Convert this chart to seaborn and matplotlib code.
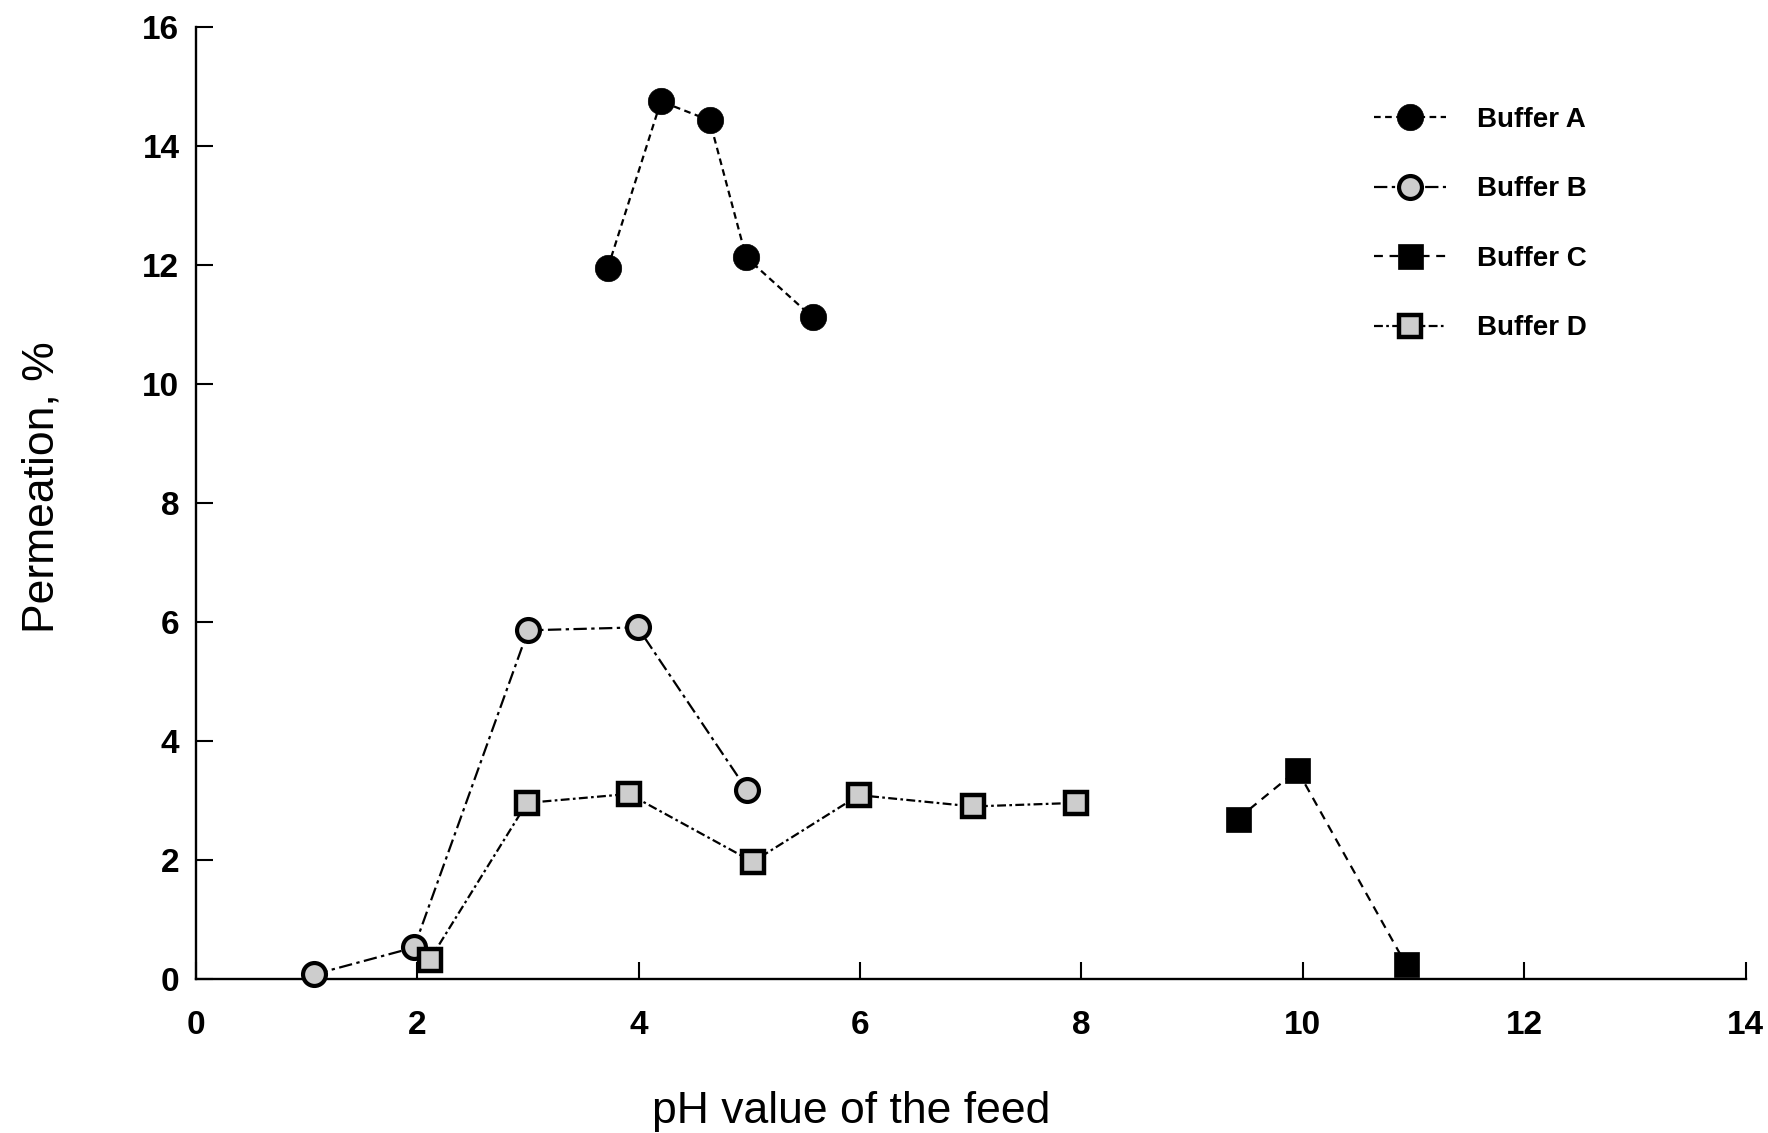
import matplotlib
matplotlib.use("Agg")
import matplotlib.pyplot as plt
from matplotlib import font_manager
import seaborn as sns
import pandas as pd

# Permeation (%) against feed pH for four buffer systems
ph_a = [3.72, 4.20, 4.64, 4.97, 5.57]
perm_a = [11.95, 14.75, 14.43, 12.13, 11.12]

ph_b = [1.07, 1.97, 3.00, 3.99, 4.98]
perm_b = [0.08, 0.53, 5.86, 5.91, 3.17]

ph_c = [9.41, 9.95, 10.93]
perm_c = [2.69, 3.51, 0.25]

ph_d = [2.11, 2.99, 3.91, 5.03, 5.99, 7.02, 7.95]
perm_d = [0.32, 2.96, 3.11, 1.97, 3.09, 2.90, 2.96]

series_names = ["Buffer A", "Buffer B", "Buffer C", "Buffer D"]
x_ticks = [0, 2, 4, 6, 8, 10, 12, 14]
y_ticks = [0, 2, 4, 6, 8, 10, 12, 14, 16]

sns.set_theme(style="ticks")
available = {f.name for f in font_manager.fontManager.ttflist}
base_font = "Liberation Sans" if "Liberation Sans" in available else "DejaVu Sans"
narrow_font = "Liberation Sans Narrow" if "Liberation Sans Narrow" in available else base_font
plt.rcParams["font.family"] = [base_font, "DejaVu Sans"]

fig = plt.figure(figsize=(17.68, 11.33), dpi=100)
ax = fig.add_axes([0.1109, 0.1359, 0.8764, 0.8403])

stipple = "#cdcdcd"
styles = {
    "Buffer A": dict(marker="o", markersize=19, markerfacecolor="black",
                     markeredgecolor="black", markeredgewidth=0.5,
                     linestyle=(0, (3, 2))),
    "Buffer B": dict(marker="o", markersize=16.5, markerfacecolor=stipple,
                     markeredgecolor="black", markeredgewidth=3.0,
                     linestyle=(0, (6, 2, 1.5, 2))),
    "Buffer C": dict(marker="s", markersize=18, markerfacecolor="black",
                     markeredgecolor="black", markeredgewidth=0.5,
                     linestyle=(0, (4, 3))),
    "Buffer D": dict(marker="s", markersize=16.5, markerfacecolor=stipple,
                     markeredgecolor="black", markeredgewidth=3.2,
                     linestyle=(0, (4, 1.5, 1.2, 1.5))),
}

data = {
    "Buffer A": (ph_a, perm_a),
    "Buffer B": (ph_b, perm_b),
    "Buffer C": (ph_c, perm_c),
    "Buffer D": (ph_d, perm_d),
}

for name in series_names:
    xs, ys = data[name]
    df = pd.DataFrame({"pH": xs, "Permeation": ys})
    sns.lineplot(data=df, x="pH", y="Permeation", ax=ax, estimator=None,
                 sort=False, color="black", linewidth=1.6, label=name,
                 clip_on=False, zorder=3, **styles[name])

ax.set_xlim(0, 14)
ax.set_ylim(0, 16)
ax.set_xticks(x_ticks)
ax.set_yticks(y_ticks)
ax.set_xticklabels([str(v) for v in x_ticks])
ax.set_yticklabels([str(v) for v in y_ticks])

for side in ("top", "right"):
    ax.spines[side].set_visible(False)
for side in ("left", "bottom"):
    ax.spines[side].set_linewidth(1.7)
    ax.spines[side].set_color("black")

ax.tick_params(axis="both", direction="in", length=12.5, width=1.5,
               colors="black", labelsize=24)
ax.tick_params(axis="x", pad=22)
ax.tick_params(axis="y", pad=12)
for lab in ax.get_xticklabels() + ax.get_yticklabels():
    lab.set_fontweight("bold")

ax.set_xlabel("pH value of the feed", fontsize=32, color="black")
ax.set_ylabel("Permeation, %", fontsize=32, color="black")
ax.xaxis.set_label_coords(0.4227, -0.118)
ax.yaxis.set_label_coords(-0.086, 0.517)

leg = ax.legend(loc="upper left", bbox_to_anchor=(0.753, 0.928), frameon=False,
                handlelength=2.6, handletextpad=1.1, labelspacing=1.57,
                borderaxespad=0, prop={"family": [narrow_font, "DejaVu Sans"],
                                       "weight": "bold", "size": 20})
for txt in leg.get_texts():
    txt.set_color("black")

ax.set_facecolor("white")
fig.patch.set_facecolor("white")
fig.savefig("out.png", dpi=100)
